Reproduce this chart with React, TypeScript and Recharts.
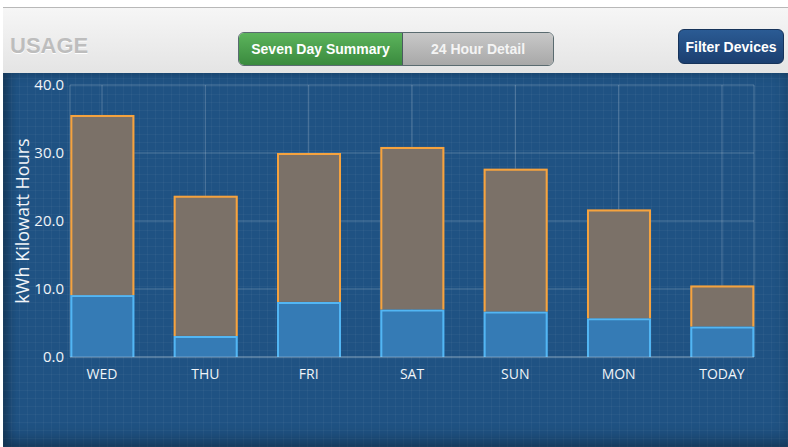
import React from "react";
import { BarChart, Bar, XAxis, YAxis, CartesianGrid, Label } from "recharts";

const days = ["WED", "THU", "FRI", "SAT", "SUN", "MON", "TODAY"];
const baseKwh = [9.1, 3.1, 8.1, 7.0, 6.7, 5.7, 4.5];
const totalKwh = [35.6, 23.7, 30.0, 30.9, 27.7, 21.7, 10.5];
const yTicks = [0, 10, 20, 30, 40];

const data = days.map((day, i) => ({
  idx: i,
  day,
  base: baseKwh[i],
  rest: +(totalKwh[i] - baseKwh[i]).toFixed(1),
}));

const font = "'Open Sans', 'DejaVu Sans', sans-serif";
const btnFont = "'Liberation Sans', Arial, sans-serif";

// brown part: orange outline on top and sides only
function RestShape(props: any) {
  const { x, y, width, height } = props;
  return (
    <g>
      <rect x={x} y={y} width={width} height={height} fill="#7b7168" />
      <path
        d={`M${x + 1},${y + height} L${x + 1},${y + 1} L${x + width - 1},${y + 1} L${x + width - 1},${y + height}`}
        fill="none"
        stroke="#f6a33e"
        strokeWidth={2}
      />
    </g>
  );
}

function BaseShape(props: any) {
  const { x, y, width, height } = props;
  return (
    <g>
      <rect x={x} y={y} width={width} height={height} fill="#357bb5" />
      <path
        d={`M${x + 1},${y + height} L${x + 1},${y + 1} L${x + width - 1},${y + 1} L${x + width - 1},${y + height}`}
        fill="none"
        stroke="#52b6f4"
        strokeWidth={2}
      />
    </g>
  );
}

export default function App() {
  return (
    <div style={{ position: "fixed", left: 0, top: 0, width: 788, height: 447, background: "#fff", overflow: "hidden" }}>
      {/* header */}
      <div
        style={{
          position: "absolute",
          left: 3,
          top: 7,
          width: 785,
          height: 65,
          borderTop: "1px solid #b8b8b8",
          background: "linear-gradient(#f6f6f6, #e4e4e4)",
        }}
      >
        <div
          style={{
            position: "absolute",
            left: 7,
            top: 25,
            fontFamily: btnFont,
            fontWeight: "bold",
            fontSize: 22,
            color: "#bdbdbd",
            textShadow: "0 1px 0 #fff",
          }}
        >
          USAGE
        </div>
        <div
          style={{
            position: "absolute",
            left: 235,
            top: 24,
            width: 314,
            height: 32,
            borderRadius: 6,
            border: "1px solid #5a6b70",
            overflow: "hidden",
            display: "flex",
            fontFamily: btnFont,
            fontWeight: "bold",
            fontSize: 14,
          }}
        >
          <div
            style={{
              width: 163,
              background: "linear-gradient(#5cb45c, #3a8a3e)",
              color: "#fff",
              display: "flex",
              alignItems: "center",
              justifyContent: "center",
              borderRight: "1px solid #4a5a60",
            }}
          >
            Seven Day Summary
          </div>
          <div
            style={{
              flex: 1,
              background: "linear-gradient(#c8c8c8, #a8a8a8)",
              color: "#f4f4f4",
              display: "flex",
              alignItems: "center",
              justifyContent: "center",
            }}
          >
            24 Hour Detail
          </div>
        </div>
        <div
          style={{
            position: "absolute",
            left: 675,
            top: 21,
            width: 104,
            height: 33,
            borderRadius: 6,
            background: "linear-gradient(#2b5b94, #1b3f70)",
            border: "1px solid #16335a",
            color: "#fff",
            fontFamily: btnFont,
            fontWeight: "bold",
            fontSize: 14,
            display: "flex",
            alignItems: "center",
            justifyContent: "center",
          }}
        >
          Filter Devices
        </div>
      </div>
      {/* chart panel */}
      <div
        style={{
          position: "absolute",
          left: 3,
          top: 73,
          width: 785,
          height: 374,
          backgroundColor: "#1f5283",
          backgroundImage:
            "repeating-linear-gradient(0deg, rgba(255,255,255,0.035) 0 1px, transparent 1px 8px), repeating-linear-gradient(90deg, rgba(255,255,255,0.035) 0 1px, transparent 1px 8px)",
          boxShadow: "inset 6px 0 10px rgba(0,0,0,0.25), inset 0 -10px 14px rgba(0,0,0,0.2)",
        }}
      >
        <BarChart
          width={785}
          height={374}
          data={data}
          margin={{ top: 12, right: 34, bottom: 60, left: 22 }}
        >
          <CartesianGrid stroke="rgba(255,255,255,0.22)" strokeWidth={1} />
          <XAxis
            dataKey="idx"
            type="number"
            domain={[-0.31, 6.31]}
            ticks={[0, 1, 2, 3, 4, 5, 6]}
            tickFormatter={(v: number) => days[v]}
            axisLine={{ stroke: "rgba(255,255,255,0.3)" }}
            tickLine={false}
            height={30}
            tick={{ fill: "#f0f4f8", fontSize: 14, fontFamily: font }}
            tickMargin={6}
          />
          <YAxis
            domain={[0, 40]}
            ticks={yTicks}
            tickFormatter={(v: number) => v.toFixed(1)}
            axisLine={false}
            tickLine={false}
            width={45}
            tick={{ fill: "#f0f4f8", fontSize: 15, fontFamily: font }}
            tickMargin={0}
          >
            <Label
              value="kWh Kilowatt Hours"
              angle={-90}
              position="insideLeft"
              offset={-2}
              style={{ fill: "#f0f4f8", fontSize: 18, fontFamily: font, textAnchor: "middle" }}
            />
          </YAxis>
          <Bar dataKey="base" stackId="a" barSize={64} shape={<BaseShape />} isAnimationActive={false} />
          <Bar dataKey="rest" stackId="a" barSize={64} shape={<RestShape />} isAnimationActive={false} />
        </BarChart>
      </div>
    </div>
  );
}
